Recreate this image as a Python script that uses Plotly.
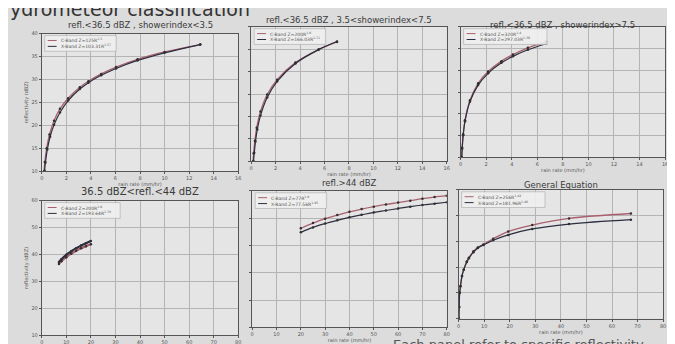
import plotly.graph_objects as go

# ---------------- data ----------------
titles = ["refl.<36.5 dBZ , showerindex<3.5",
          "refl.<36.5 dBZ , 3.5<showerindex<7.5",
          "refl.<36.5 dBZ , showerindex>7.5",
          "36.5 dBZ<refl.<44 dBZ",
          "refl.>44 dBZ",
          "General Equation"]

c_names = ["C-Band Z=125R<sup>1.5</sup>", "C-Band Z=200R<sup>1.6</sup>", "C-Band Z=320R<sup>1.4</sup>",
           "C-Band Z=200R<sup>1.6</sup>", "C-Band Z=77R<sup>1.9</sup>", "C-Band Z=256R<sup>1.42</sup>"]
x_names = ["X-Band Z=103.31R<sup>1.57</sup>", "X-Band Z=166.03R<sup>1.71</sup>", "X-Band Z=297.03R<sup>1.38</sup>",
           "X-Band Z=193.64R<sup>1.70</sup>", "X-Band Z=77.56R<sup>1.95</sup>", "X-Band Z=181.96R<sup>1.46</sup>"]

p1_c_x = [0.19, 0.25, 0.4, 0.63, 1.0, 1.48, 2.15, 3.1, 3.8, 4.84, 6.05, 7.8, 10.0, 12.9]
p1_c_y = [10, 12, 15, 18, 21, 23.6, 25.9, 28.3, 29.6, 31.2, 32.7, 34.4, 36.0, 37.6]
p1_x_x = [0.23, 0.3, 0.45, 0.68, 1.0, 1.48, 2.15, 3.1, 3.8, 4.84, 6.05, 7.8, 10.0, 12.9]
p1_x_y = [10.1, 11.9, 14.7, 17.5, 20.1, 22.8, 25.4, 27.9, 29.3, 30.9, 32.4, 34.15, 35.8, 37.6]

p2_c_x = [0.15, 0.2, 0.3, 0.45, 0.76, 1.31, 2.12, 3.62, 5.52, 7.02]
p2_c_y = [10, 11.8, 14.6, 17.5, 21.1, 24.9, 28.2, 32.0, 34.9, 36.6]
p2_x_x = [0.19, 0.25, 0.35, 0.5, 0.76, 1.31, 2.12, 3.62, 5.52, 7.02]
p2_x_y = [10, 11.9, 14.4, 17.1, 20.2, 24.2, 27.8, 31.8, 34.9, 36.7]

p3_c_x = [0.085, 0.12, 0.2, 0.34, 0.73, 1.37, 2.15, 3.19, 4.09, 5.26, 6.68]
p3_c_y = [10.05, 12.2, 15.3, 18.5, 23.1, 27.0, 29.7, 32.1, 33.6, 35.15, 36.6]
p3_x_x = [0.085, 0.12, 0.2, 0.34, 0.73, 1.37, 2.15, 3.19, 4.09, 5.26, 6.68]
p3_x_y = [10, 12.0, 15.1, 18.3, 22.8, 26.6, 29.3, 31.7, 33.2, 34.7, 36.1]

p4_c_x = [7, 8, 10, 12, 14, 16, 18, 20]
p4_c_y = [36.5, 37.5, 39.0, 40.3, 41.35, 42.3, 43.1, 43.8]
p4_x_x = [7, 8, 10, 12, 14, 16, 18, 20]
p4_x_y = [37.2, 38.2, 39.9, 41.2, 42.35, 43.3, 44.2, 45.0]

p5_c_x = [20, 25, 30, 35, 40, 45, 50, 55, 60, 65, 70, 75, 80]
p5_c_y = [46.3, 48.2, 49.8, 51.1, 52.3, 53.3, 54.2, 55.0, 55.7, 56.4, 57.1, 57.7, 58.2]
p5_x_x = [20, 25, 30, 35, 40, 45, 50, 55, 60, 65, 70, 75, 80]
p5_x_y = [44.8, 46.6, 48.0, 49.2, 50.3, 51.2, 52.1, 52.8, 53.5, 54.2, 54.8, 55.3, 55.8]

p6_c_x = [0.1, 0.2, 0.4, 0.7, 1.3, 2.0, 3.2, 4.0, 5.8, 7.5, 9.7, 13.5, 19.4, 28.8, 43.2, 67.4]
p6_c_y = [10, 14.5, 20, 22.5, 26.5, 29, 32.2, 33.6, 36.1, 37.6, 38.8, 41.0, 43.8, 46.3, 48.9, 50.8]
p6_x_x = [0.1, 0.2, 0.4, 0.7, 1.3, 2.0, 3.2, 4.0, 5.8, 7.5, 9.7, 13.5, 19.4, 28.8, 43.2, 67.4]
p6_x_y = [10, 14.5, 20, 22.5, 26.5, 29, 32.0, 33.4, 35.8, 37.4, 38.6, 40.4, 42.5, 44.8, 46.7, 48.4]

top_x_ticks = [0, 2, 4, 6, 8, 10, 12, 14, 16]
top_y_ticks = [10, 15, 20, 25, 30, 35, 40]
bot_x_ticks = [0, 10, 20, 30, 40, 50, 60, 70, 80]
bot_y_ticks = [10, 20, 30, 40, 50, 60]

series = [(p1_c_x, p1_c_y, p1_x_x, p1_x_y), (p2_c_x, p2_c_y, p2_x_x, p2_x_y),
          (p3_c_x, p3_c_y, p3_x_x, p3_x_y), (p4_c_x, p4_c_y, p4_x_x, p4_x_y),
          (p5_c_x, p5_c_y, p5_x_x, p5_x_y), (p6_c_x, p6_c_y, p6_x_x, p6_x_y)]

# ---------------- layout geometry (pixels) ----------------
W, H = 675, 344
boxes = [(32, 230, 23, 163), (243, 440, 16, 153), (454, 660, 16, 149),
         (32, 230, 193, 330), (244, 440, 183, 322), (452, 658, 182, 313)]
title_y = [14, 9, 14, 184, 175, 177]
legend_w = [72, 72, 84, 76, 72, 84]

C_COL = "#a8606e"
X_COL = "#2b2e3f"
MK_COL = "#303030"
TXT = "#3a3a3a"
AX = "#555555"
FONT = "DejaVu Sans"


def px(x):
    return x / W


def py(y):
    return 1 - y / H


fig = go.Figure()
layout = dict(width=W, height=H, margin=dict(l=0, r=0, t=0, b=0),
              paper_bgcolor="#dcdcdc", plot_bgcolor="#e5e5e5",
              font=dict(family=FONT, color=TXT), showlegend=False)
annotations = []
shapes = []

for i, (box, (cx, cy, xx, xy)) in enumerate(zip(boxes, series)):
    k = i + 1
    xa = "x" if k == 1 else f"x{k}"
    ya = "y" if k == 1 else f"y{k}"
    lw_c = 2.2 if k == 4 else 1.3
    lw_x = 2.2 if k == 4 else 1.2
    fig.add_trace(go.Scatter(x=cx, y=cy, mode="lines+markers", name=c_names[i],
                             line=dict(color=C_COL, width=lw_c, shape="spline"),
                             marker=dict(color=MK_COL, size=2.5),
                             xaxis=xa, yaxis=ya))
    fig.add_trace(go.Scatter(x=xx, y=xy, mode="lines+markers", name=x_names[i],
                             line=dict(color=X_COL, width=lw_x, shape="spline"),
                             marker=dict(color=MK_COL, size=2.5),
                             xaxis=xa, yaxis=ya))
    x0, x1, y0, y1 = box
    top = i < 3
    axis_common = dict(showgrid=True, gridcolor="#b4b4b4", gridwidth=0.8,
                       showline=True, linecolor=AX, linewidth=1, mirror=True,
                       ticks="outside", ticklen=2, tickcolor=AX,
                       tickfont=dict(size=5, color=AX), zeroline=False)
    layout["xaxis" if k == 1 else f"xaxis{k}"] = dict(
        domain=[px(x0), px(x1)], anchor=ya,
        range=[0, 16] if top else [0, 80],
        tickvals=top_x_ticks if top else bot_x_ticks,
        title=dict(text="rain rate (mm/hr)", font=dict(size=5, color=AX), standoff=1),
        **axis_common)
    yax = dict(domain=[py(y1), py(y0)], anchor=xa,
               range=[10, 40] if top else [10, 60],
               tickvals=top_y_ticks if top else bot_y_ticks,
               showticklabels=(k in (1, 4)), **axis_common)
    if k in (1, 4):
        yax["title"] = dict(text="reflectivity (dBZ)", font=dict(size=5, color=AX), standoff=2)
    layout["yaxis" if k == 1 else f"yaxis{k}"] = yax

    # legend box (matplotlib style, inside upper-left)
    lx0, ly0 = x0 + 3, y0 + 2
    lx1, ly1 = lx0 + legend_w[i], ly0 + 16
    shapes.append(dict(type="rect", xref="paper", yref="paper",
                       x0=px(lx0), x1=px(lx1), y0=py(ly1), y1=py(ly0),
                       line=dict(color="#b0b0b0", width=0.7), fillcolor="rgba(238,238,238,0.9)"))
    for j, (nm, col) in enumerate([(c_names[i], C_COL), (x_names[i], X_COL)]):
        yy = ly0 + 5 + j * 6
        shapes.append(dict(type="line", xref="paper", yref="paper",
                           x0=px(lx0 + 3), x1=px(lx0 + 12), y0=py(yy), y1=py(yy),
                           line=dict(color=col, width=1)))
        annotations.append(dict(text=nm, x=px(lx0 + 14), y=py(yy), xref="paper", yref="paper",
                                showarrow=False, xanchor="left", yanchor="middle",
                                font=dict(size=4.5, color=AX)))
    annotations.append(dict(text=titles[i], x=px((x0 + x1) / 2), y=py(title_y[i]),
                            xref="paper", yref="paper", showarrow=False,
                            font=dict(size=8.5 if k != 4 else 10, color=TXT),
                            xanchor="center", yanchor="middle"))

annotations.append(dict(text="ydrometeor classification", x=px(-2), y=py(-2), xref="paper", yref="paper",
                        showarrow=False, xanchor="left", yanchor="middle",
                        font=dict(size=19, color="#333333")))
annotations.append(dict(text="Each panel refer to specific reflectivity", x=px(384), y=py(339),
                        xref="paper", yref="paper", showarrow=False, xanchor="left", yanchor="middle",
                        font=dict(size=13, color="#555555")))
layout["annotations"] = annotations
layout["shapes"] = shapes
fig.update_layout(**layout)
fig.write_html("out.html")
